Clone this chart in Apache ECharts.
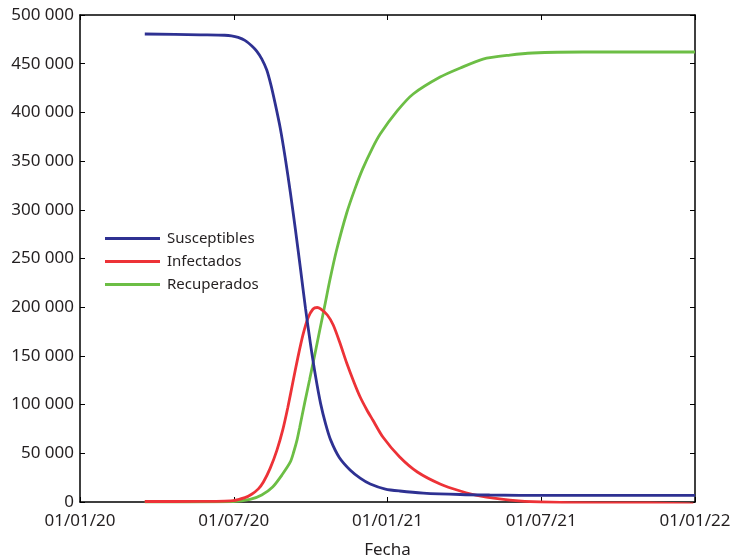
<!DOCTYPE html>
<html>
<head>
<meta charset="utf-8">
<script src="https://cdn.jsdelivr.net/npm/echarts@6/dist/echarts.min.js"></script>
<style>html,body{margin:0;padding:0;background:#fff}#c{width:734px;height:560px}</style>
</head>
<body>
<div id="c"></div>
<script>
// Days counted from 01/01/20
var xTickLabels = ['01/01/20', '01/07/20', '01/01/21', '01/07/21', '01/01/22'];
var seriesNames = ['Susceptibles', 'Infectados', 'Recuperados'];

var susDays = [77, 143, 172, 180, 188, 196, 204, 210, 216, 222, 227, 232, 238, 244, 250, 256, 262, 268, 274, 280, 286, 292, 298, 308, 321, 333, 345, 363, 380, 408, 452, 487, 559, 731];
var susVals = [480500, 479600, 479200, 478600, 477000, 474000, 468500, 463000, 455000, 443500, 428000, 409000, 384000, 353000, 318000, 280000, 240000, 199000, 162000, 129000, 101000, 80000, 63500, 46000, 32900, 24600, 18500, 13300, 11300, 9200, 7700, 7200, 6700, 6700];

var infDays = [77, 143, 182, 196, 204, 212, 218, 226, 234, 241, 247, 253, 259, 265, 271, 277, 282, 286, 294, 301, 309, 317, 326, 333, 341, 348, 360, 380, 401, 428, 452, 475, 511, 547, 618, 678, 729];
var infVals = [500, 600, 1500, 4500, 8000, 13500, 20500, 34500, 53000, 74000, 97000, 123000, 148500, 171500, 188900, 198200, 199700, 198200, 192000, 181700, 163200, 142700, 122200, 107800, 94500, 84200, 66700, 46200, 30800, 18500, 11300, 6200, 2000, 0, -1000, -1000, -2000];

var recDays = [77, 182, 202, 216, 229, 240, 250, 254, 258, 261, 267, 273, 279, 285, 291, 297, 305, 317, 327, 336, 347, 357, 377, 396, 428, 452, 479, 511, 538, 598, 731];
var recVals = [0, 500, 2600, 7200, 15400, 27700, 41100, 51300, 63700, 76000, 101500, 126000, 151000, 176500, 202000, 227900, 258700, 296700, 322000, 342000, 362400, 378000, 401500, 418900, 436300, 445600, 454800, 458900, 461000, 462000, 462000];

var colors = ['#2e3192', '#ed3237', '#6cbe45'];
var xMax = 731;
var xStep = xMax / 4;

function pairs(d, v) { return d.map(function (x, i) { return [x, v[i]]; }); }
function fmtY(v) { return v === 0 ? '0' : String(v).replace(/\B(?=(\d{3})+(?!\d))/g, ' '); }

var txt = '#231f20';
var font = 'Noto Sans';
var axisLine = { show: true, onZero: false, lineStyle: { color: '#000', width: 1.5 } };
var tickIn = { show: true, inside: true, length: 5, lineStyle: { color: '#000', width: 1 } };

var chart = echarts.init(document.getElementById('c'));
chart.setOption({
  animation: false,
  backgroundColor: '#fff',
  textStyle: { fontFamily: font },
  grid: { left: 80, right: 39, top: 15, bottom: 58, containLabel: false, outerBoundsMode: 'none' },
  legend: {
    orient: 'vertical', left: 105, top: 231, padding: 0,
    data: seriesNames,
    icon: 'rect', itemWidth: 55, itemHeight: 3, itemGap: 8,
    textStyle: { fontSize: 15, color: txt, fontFamily: font, padding: [0, 0, 0, 2] }
  },
  xAxis: [{
    type: 'value', min: 0, max: xMax, interval: xStep,
    axisLine: axisLine, axisTick: tickIn, splitLine: { show: false },
    axisLabel: {
      color: txt, fontSize: 17, fontFamily: font, margin: 11,
      formatter: function (v) { return xTickLabels[Math.round(v / xStep)] || ''; }
    },
    name: 'Fecha', nameLocation: 'middle', nameGap: 40,
    nameTextStyle: { color: txt, fontSize: 17, fontFamily: font }
  }, {
    type: 'value', position: 'top', min: 0, max: xMax, interval: xStep,
    axisLine: axisLine, axisTick: tickIn, axisLabel: { show: false }, splitLine: { show: false }
  }],
  yAxis: [{
    type: 'value', min: 0, max: 500000, interval: 50000,
    axisLine: axisLine, axisTick: tickIn, splitLine: { show: false },
    axisLabel: { color: txt, fontSize: 17, fontFamily: font, margin: 6, formatter: fmtY }
  }, {
    type: 'value', position: 'right', min: 0, max: 500000, interval: 50000,
    axisLine: axisLine, axisTick: tickIn, axisLabel: { show: false }, splitLine: { show: false }
  }],
  series: [
    { name: seriesNames[0], type: 'line', data: pairs(susDays, susVals), showSymbol: false, smooth: 0.25, lineStyle: { width: 2.8, color: colors[0] }, itemStyle: { color: colors[0] }, z: 3 },
    { name: seriesNames[1], type: 'line', data: pairs(infDays, infVals), showSymbol: false, smooth: 0.25, lineStyle: { width: 2.8, color: colors[1] }, itemStyle: { color: colors[1] }, z: 2 },
    { name: seriesNames[2], type: 'line', data: pairs(recDays, recVals), showSymbol: false, smooth: 0.25, lineStyle: { width: 2.8, color: colors[2] }, itemStyle: { color: colors[2] }, z: 1 }
  ]
});
</script>
</body>
</html>
